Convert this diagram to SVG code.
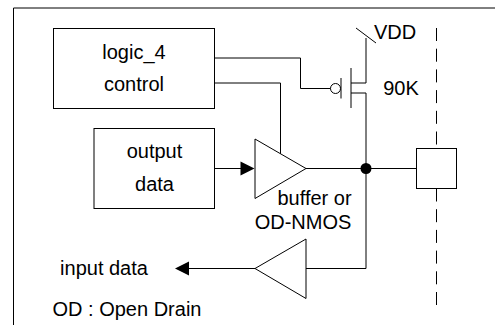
<svg xmlns="http://www.w3.org/2000/svg" width="495" height="325" viewBox="0 0 495 325">
<style>
.s{fill:none;stroke:#000;stroke-width:1}
.f{fill:#fff;stroke:#000;stroke-width:1}
.d{stroke-dasharray:13 7.700}
text{font-family:"Liberation Sans",Arial,sans-serif;font-size:20px;fill:#000;text-anchor:middle}
</style>
<rect width="495" height="325" fill="#fff"/>
<path id="frame" class="s" d="M13.500 325V8H495"/>
<g id="connectors">
<path class="s" d="M214.500 58H300.500V88.500H331"/>
<path class="s" d="M214.500 83H280.500V155"/>
<path class="s" d="M214.500 168.500H241"/>
<path d="M240.500 161.500L254.500 168.500L240.500 175.500Z"/>
<path class="s" d="M306 168.500H416.500"/>
<path class="s" d="M366 38V83H351M351 93H366V268.500H306"/>
<path class="s" d="M255 268.500H188"/>
<path d="M175 268.500L189 261.500V275.500Z"/>
<path class="s" d="M356 28L376 43"/>
<path class="s d" d="M436.500 28V146"/>
<path class="s d" d="M436.500 188.500V306"/>
<circle cx="366" cy="168.500" r="5.500"/>
</g>
<g id="logic"><rect class="f" x="53.500" y="28.500" width="161" height="80"/><text x="134" y="58.500">logic_4</text><text x="134" y="91">control</text></g>
<g id="output"><rect class="f" x="94" y="128.500" width="120.500" height="80"/><text x="154.500" y="158">output</text><text x="154.500" y="191">data</text></g>
<g id="pmos">
<circle class="f" cx="335.500" cy="88.500" r="5"/>
<path class="s" d="M341 78V98.500M351 68V108"/>
<text x="401" y="95">90K</text>
<text x="395" y="39">VDD</text>
</g>
<g id="buffer"><path class="f" d="M255 139L306 168.500L255 198.500Z"/><text x="314.500" y="205">buffer or</text><text x="303" y="229">OD-NMOS</text></g>
<g id="inbuf"><path class="f" d="M306 239L255 268.500L306 298.500Z"/><text x="104" y="275">input data</text></g>
<g id="pad"><rect class="f" x="416.500" y="148.500" width="40" height="40"/></g>
<g id="note"><text x="127" y="316">OD : Open Drain</text></g>
</svg>
